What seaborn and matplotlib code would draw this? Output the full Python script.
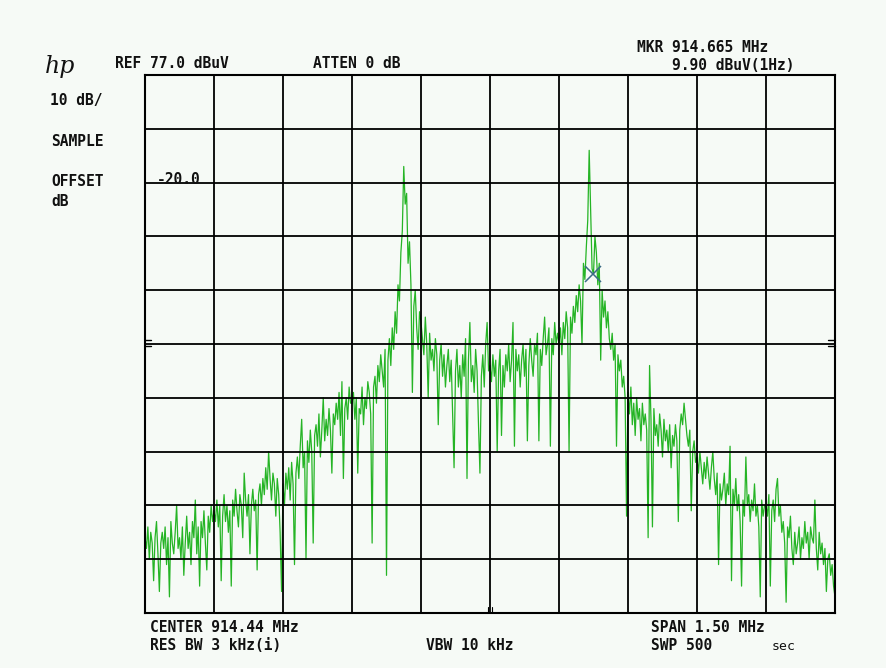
import numpy as np
import pandas as pd
import seaborn as sns
import matplotlib
matplotlib.use("Agg")
import matplotlib.pyplot as plt

# ---- instrument settings ----
center_mhz = 914.44
span_mhz = 1.50
ref_level = 77.0          # dBuV, top of screen
db_per_div = 10
marker_mhz = 914.665

# ---- sampled trace, dBuV, 48 samples per horizontal division ----
d1 = [-9, -11, -7, -13, -8, -10, -17, -9, -6, -12, -19, -10, -8, -11, -7, -14, -9, -20, -6, -10, -12, -8, -3, -11,
      -9, -13, -7, -16, -10, -5, -11, -8, -14, -6, -9, -2, -12, -7, -18, -6, -9, -4, -10, -15, -5, -8, -3, -6]
d2 = [-4, -6, -2, -7, -3, -17, -5, -1, -6, -3, -8, -4, -18, -2, -5, 0, -4, -7, -1, -3, -9, 3, -2, -5,
      -1, -12, -3, 0, -4, -2, -15, -1, 1, -3, 2, -1, 4, 0, 7, 2, -2, 3, 1, -5, 2, -1, -8, -19]
d3 = [1, -3, 3, 0, 4, -2, 5, 1, -14, 3, 6, 2, 8, 13, 4, 7, -13, 9, 5, 11, 7, -10, 10, 12,
      8, 14, 6, 11, 17, 9, 13, 10, 15, 11, 3, 14, 12, 16, 13, 18, 10, 20, 2, 15, 17, 13, 19, 16]
d4 = [16, 18, 13, 17, 3, 15, 14, 19, 12, 17, 15, 20, 18, 14, -10, 19, 21, 16, 23, 20, 25, 22, 19, 26,
      -16, 24, 28, 23, 30, 26, 33, 29, 38, 35, 44, 48, 60, 53, 55, 42, 46, 38, 18, 34, 37, 30, 26, 33]
d5 = [31, 28, 25, 32, 27, 17, 29, 24, 26, 22, 28, 25, 12, 24, 27, 21, 25, 19, 23, 26, 20, 24, 14, 4,
      22, 26, 19, 23, 17, 25, 21, 28, 2, 24, 31, 20, 23, 18, 26, 22, 12, 3, 21, 25, 19, 27, 31, 22]
d6 = [23, 20, 25, 21, 24, 7, 22, 26, 10, 23, 19, 25, 22, 27, 20, 24, 31, 8, 26, 22, 25, 19, 24, 27,
      21, 26, 9, 23, 28, 24, 21, 27, 25, 29, 9, 26, 23, 28, 32, 25, 27, 30, 8, 28, 25, 31, 27, 29]
d7 = [27, 30, 25, 31, 28, 33, 30, 7, 32, 29, 34, 31, 36, 33, 38, 35, 27, 42, 39, 45, 50, 63, 52, 41,
      40, 47, 44, 38, 42, 24, 37, 32, 35, 30, 33, 28, 26, 29, 24, 27, 8, 25, 22, 24, 19, 21, 17, -5]
d8 = [18, 14, 19, 12, 16, 10, 17, 13, 15, 9, 16, 12, 14, 11, -9, 23, 13, -7, 15, 10, 12, 8, 14, 11,
      6, 13, 9, 11, 7, 12, 4, 10, 8, 12, 9, -6, 11, 14, 12, 16, 13, 10, 8, 11, -4, 7, 9, 5]
d9 = [6, 3, 7, 4, 1, 5, 2, 6, 3, 0, 4, 7, 2, -1, 3, -14, 1, -2, 0, 3, -3, 1, -1, 8,
      -17, 0, -3, 2, -4, -1, -6, -18, -2, -5, 6, -3, -1, -6, -2, -4, 1, -5, -3, -7, -20, -2, -5, -3]
d10 = [-3, -5, -1, -18, -4, -2, -6, 0, 2, -5, -3, -8, -6, -10, -21, -7, -9, -5, -11, -14, -8, -12, -10, -7,
       -13, -9, -11, -6, -10, -8, -13, -7, -9, -10, -2, -11, -15, -8, -12, -10, -14, -11, -19, -13, -12, -16, -14, -18, -20]

level = d1 + d2 + d3 + d4 + d5 + d6 + d7 + d8 + d9 + d10
f_start = center_mhz - span_mhz / 2
f_stop = center_mhz + span_mhz / 2
freq = np.linspace(f_start, f_stop, len(level))
df = pd.DataFrame({"freq": freq, "level": level})

W, H = 886, 668
sns.set_style("white")
plt.rcParams["font.family"] = ["DejaVu Sans Mono", "DejaVu Sans"]

fig = plt.figure(figsize=(W / 100, H / 100), dpi=100)
fig.patch.set_facecolor("#f6faf6")
ax = fig.add_axes([145 / W, 1 - 613 / H, 690 / W, 538 / H])
ax.set_facecolor("#f6faf6")

bottom = ref_level - 10 * db_per_div
sns.lineplot(data=df, x="freq", y="level", ax=ax, color="#25b425",
             linewidth=0.9, estimator=None, sort=False)

# marker "X" sits on the trace
mk_level = np.interp(marker_mhz, freq, level)
ax.plot([marker_mhz], [mk_level], marker="x", markersize=11, mew=1.1,
        color="#3b6b85", linestyle="none", zorder=5)

ax.set_xlim(f_start, f_stop)
ax.set_ylim(bottom, ref_level)
ax.set_xticks(np.linspace(f_start, f_stop, 11))
ax.set_yticks(np.linspace(bottom, ref_level, 11))
ax.tick_params(length=0, labelbottom=False, labelleft=False)
ax.set_xlabel("")
ax.set_ylabel("")
ax.grid(True, color="black", linewidth=1.3)
ax.set_axisbelow(False)
for s in ax.spines.values():
    s.set_color("black")
    s.set_linewidth(1.5)

# small reference ticks on the frame
ax.plot([0, 0.008], [0.497, 0.497], color="black", lw=1, transform=ax.transAxes, clip_on=False)
ax.plot([0, 0.008], [0.508, 0.508], color="black", lw=1, transform=ax.transAxes, clip_on=False)
ax.plot([0.99, 1], [0.497, 0.497], color="black", lw=1, transform=ax.transAxes, clip_on=False)
ax.plot([0.99, 1], [0.508, 0.508], color="black", lw=1, transform=ax.transAxes, clip_on=False)
ax.plot([0.4965, 0.4965], [0, 0.012], color="black", lw=0.8, transform=ax.transAxes)
ax.plot([0.5035, 0.5035], [0, 0.012], color="black", lw=0.8, transform=ax.transAxes)


def label(x, y, s, **kw):
    opts = dict(fontsize=10.5, fontweight="bold", va="center", ha="left", color="#111111")
    opts.update(kw)
    fig.text(x / W, 1 - y / H, s, **opts)


label(45, 66, "hp", fontsize=17, fontweight="light", fontstyle="italic",
      family=["DejaVu Serif"])
label(115, 64, "REF 77.0 dBuV")
label(313, 64, "ATTEN 0 dB")
label(637, 47, "MKR 914.665 MHz")
label(672, 65, "9.90 dBuV(1Hz)")
label(50, 101, "10 dB/")
label(51, 141, "SAMPLE")
label(51, 181, "OFFSET")
label(51, 201, "dB")
label(157, 179, "-20.0")
label(150, 627, "CENTER 914.44 MHz")
label(150, 645, "RES BW 3 kHz(i)")
label(426, 645, "VBW 10 kHz")
label(651, 627, "SPAN 1.50 MHz")
label(651, 645, "SWP 500")
label(772, 647, "sec", fontweight="normal", fontsize=9.5)

fig.savefig("out.png", dpi=100, facecolor=fig.get_facecolor())
